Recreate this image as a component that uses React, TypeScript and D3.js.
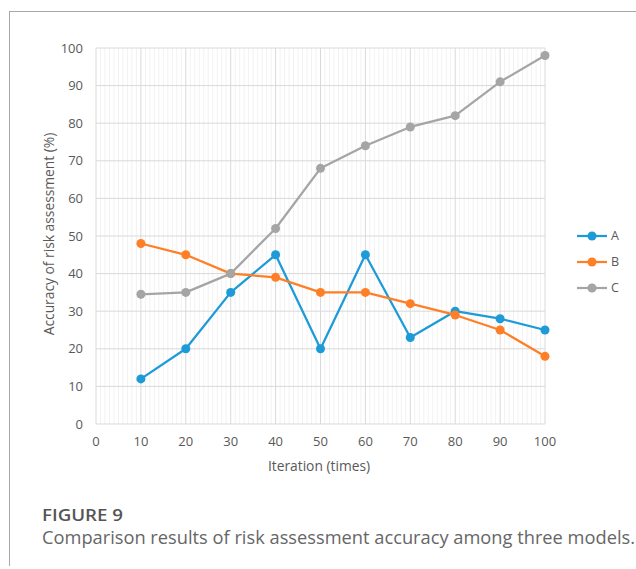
import React from "react";
import * as d3 from "d3";

const iterations = [10, 20, 30, 40, 50, 60, 70, 80, 90, 100];
const seriesA = [12, 20, 35, 45, 20, 45, 23, 30, 28, 25];
const seriesB = [48, 45, 40, 39, 35, 35, 32, 29, 25, 18];
const seriesC = [34.5, 35, 40, 52, 68, 74, 79, 82, 91, 98];
const seriesNames = ["A", "B", "C"];
const seriesColors = ["#1d9ad8", "#ff7f27", "#a5a5a5"];
const xTicks = [0, 10, 20, 30, 40, 50, 60, 70, 80, 90, 100];
const yTicks = [0, 10, 20, 30, 40, 50, 60, 70, 80, 90, 100];

export default function App() {
  const W = 636, H = 569;
  const x = d3.scaleLinear().domain([0, 100]).range([96, 545]);
  const y = d3.scaleLinear().domain([0, 100]).range([424, 48]);
  const font = "'Open Sans', sans-serif";
  const all = [seriesA, seriesB, seriesC];
  const line = d3.line<number>().x((_, i) => x(iterations[i])).y((d) => y(d));
  const minor = d3.range(0, 101, 1).filter((v) => v % 10 !== 0);
  return (
    <svg width={W} height={H} style={{ position: "absolute", left: 0, top: 0 }}>
      <rect width={W} height={H} fill="#fff" />
      <line x1={10} x2={636} y1={11.5} y2={11.5} stroke="#a8a8a8" />
      <line x1={9.5} x2={9.5} y1={11} y2={566} stroke="#a8a8a8" />
      {minor.map((v) => (
        <line key={"m" + v} x1={x(v)} x2={x(v)} y1={y(100)} y2={y(0)} stroke="#f2f2f2" />
      ))}
      {xTicks.map((v) => (
        <line key={"vx" + v} x1={x(v)} x2={x(v)} y1={y(100)} y2={y(0)} stroke="#d9d9d9" />
      ))}
      {yTicks.map((v) => (
        <line key={"hy" + v} x1={x(0)} x2={x(100)} y1={y(v)} y2={y(v)} stroke="#d9d9d9" />
      ))}
      {yTicks.map((v) => (
        <text key={"ty" + v} x={83} y={y(v)} dy="0.35em" textAnchor="end" fontFamily={font} fontSize={13} fill="#595959">{v}</text>
      ))}
      {xTicks.map((v) => (
        <text key={"tx" + v} x={x(v)} y={441} dy="0.35em" textAnchor="middle" fontFamily={font} fontSize={13} fill="#595959">{v}</text>
      ))}
      <text x={319} y={466} dy="0.35em" textAnchor="middle" fontFamily={font} fontSize={13.8} fill="#595959">Iteration (times)</text>
      <text transform="translate(49,234) rotate(-90)" dy="0.35em" textAnchor="middle" fontFamily={font} fontSize={13.8} fill="#595959">Accuracy of risk assessment (%)</text>
      {all.map((s, k) => (
        <g key={"s" + k}>
          <path d={line(s) || ""} fill="none" stroke={seriesColors[k]} strokeWidth={2.25} strokeLinejoin="round" />
          {s.map((v, i) => (
            <circle key={i} cx={x(iterations[i])} cy={y(v)} r={4.5} fill={seriesColors[k]} />
          ))}
        </g>
      ))}
      {seriesNames.map((n, k) => {
        const ly = 236 + k * 26;
        return (
          <g key={"l" + n}>
            <line x1={577} x2={607} y1={ly} y2={ly} stroke={seriesColors[k]} strokeWidth={2.25} />
            <circle cx={592} cy={ly} r={4.5} fill={seriesColors[k]} />
            <text x={611} y={ly} dy="0.35em" fontFamily={font} fontSize={12.5} fill="#595959">{n}</text>
          </g>
        );
      })}
      <text x={42} y={521} fontFamily={font} fontSize={17} fontWeight={600} fill="#555" textLength={81} lengthAdjust="spacingAndGlyphs">FIGURE 9</text>
      <text x={42} y={544} fontFamily={font} fontSize={17.5} fill="#666" textLength={593} lengthAdjust="spacingAndGlyphs">Comparison results of risk assessment accuracy among three models.</text>
    </svg>
  );
}
